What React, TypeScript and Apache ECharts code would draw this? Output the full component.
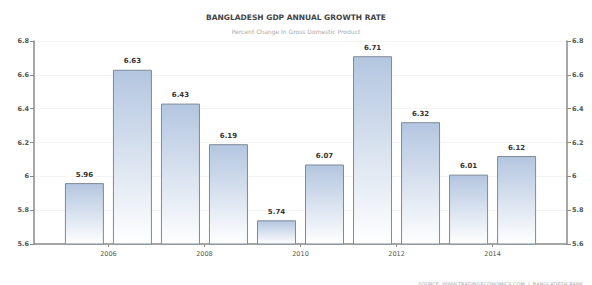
import React, { useEffect, useRef } from "react";
import * as echarts from "echarts";

const years = [2005, 2006, 2007, 2008, 2009, 2010, 2011, 2012, 2013, 2014];
const growth = [5.96, 6.63, 6.43, 6.19, 5.74, 6.07, 6.71, 6.32, 6.01, 6.12];
const xTickYears = [2006, 2008, 2010, 2012, 2014];
const titleText = "BANGLADESH GDP ANNUAL GROWTH RATE";
const subtitleText = "Percent Change In Gross Domestic Product";
const sourceText = "SOURCE: WWW.TRADINGECONOMICS.COM  |  BANGLADESH BANK";

export default function App() {
  const ref = useRef<HTMLDivElement>(null);
  useEffect(() => {
    if (!ref.current) return;
    const chart = echarts.init(ref.current, undefined, { renderer: "svg" });
    const yAxisCommon = {
      type: "value",
      min: 5.6,
      max: 6.8,
      interval: 0.2,
      axisLine: { show: true, lineStyle: { color: "#8a8a8a", width: 1.5 } },
      axisTick: { show: true, length: 4, lineStyle: { color: "#8a8a8a" } },
      axisLabel: {
        color: "#555",
        fontSize: 6.5,
        fontWeight: "bold",
        fontFamily: "DejaVu Sans",
        margin: 5,
        formatter: (v: number) => {
          const r = Math.round(v * 10) / 10;
          return Number.isInteger(r) ? String(r) : r.toFixed(1);
        },
      },
    };
    chart.setOption({
      animation: false,
      backgroundColor: "#ffffff",
      title: [
        {
          text: titleText,
          left: "center",
          top: 8,
          textStyle: { fontSize: 7.5, fontWeight: "bold", color: "#444", fontFamily: "DejaVu Sans" },
        },
        {
          text: subtitleText,
          left: "center",
          top: 23,
          textStyle: { fontSize: 6, fontWeight: "normal", color: "#aaa", fontFamily: "DejaVu Sans" },
        },
        {
          text: sourceText,
          right: 4,
          top: 276,
          textStyle: { fontSize: 5, fontWeight: "normal", color: "#aaa", fontFamily: "DejaVu Sans" },
        },
      ],
      grid: { left: 34, right: 25, top: 41, bottom: 41 },
      xAxis: {
        type: "value",
        min: 2004.45,
        max: 2015.55,
        axisLine: { show: true, onZero: false, lineStyle: { color: "#8a8a8a", width: 1.5 } },
        axisTick: { show: true, length: 3, customValues: xTickYears, lineStyle: { color: "#8a8a8a" } },
        axisLabel: {
          customValues: xTickYears,
          color: "#555",
          fontSize: 6.5,
          fontFamily: "DejaVu Sans",
          margin: 6,
          formatter: (v: number) => String(Math.round(v)),
        },
        splitLine: { show: false },
      },
      yAxis: [
        {
          ...yAxisCommon,
          position: "left",
          splitLine: { show: true, lineStyle: { color: "#f4f4f4" } },
        },
        {
          ...yAxisCommon,
          position: "right",
          splitLine: { show: false },
        },
      ],
      series: [
        {
          type: "bar",
          barWidth: 39,
          data: years.map((y, i) => [y + 0.5, growth[i]]),
          itemStyle: {
            color: new echarts.graphic.LinearGradient(0, 0, 0, 1, [
              { offset: 0, color: "#b3c6e0" },
              { offset: 1, color: "#ffffff" },
            ]),
            borderColor: "#7f8a98",
            borderWidth: 1,
          },
          label: {
            show: true,
            position: "top",
            distance: 5,
            color: "#333",
            fontSize: 7,
            fontWeight: "bold",
            fontFamily: "DejaVu Sans",
            formatter: (p: any) => p.value[1].toFixed(2),
          },
        },
      ],
    });
    return () => chart.dispose();
  }, []);
  return (
    <div
      ref={ref}
      style={{ position: "fixed", left: 0, top: 0, width: 592, height: 285 }}
    />
  );
}
